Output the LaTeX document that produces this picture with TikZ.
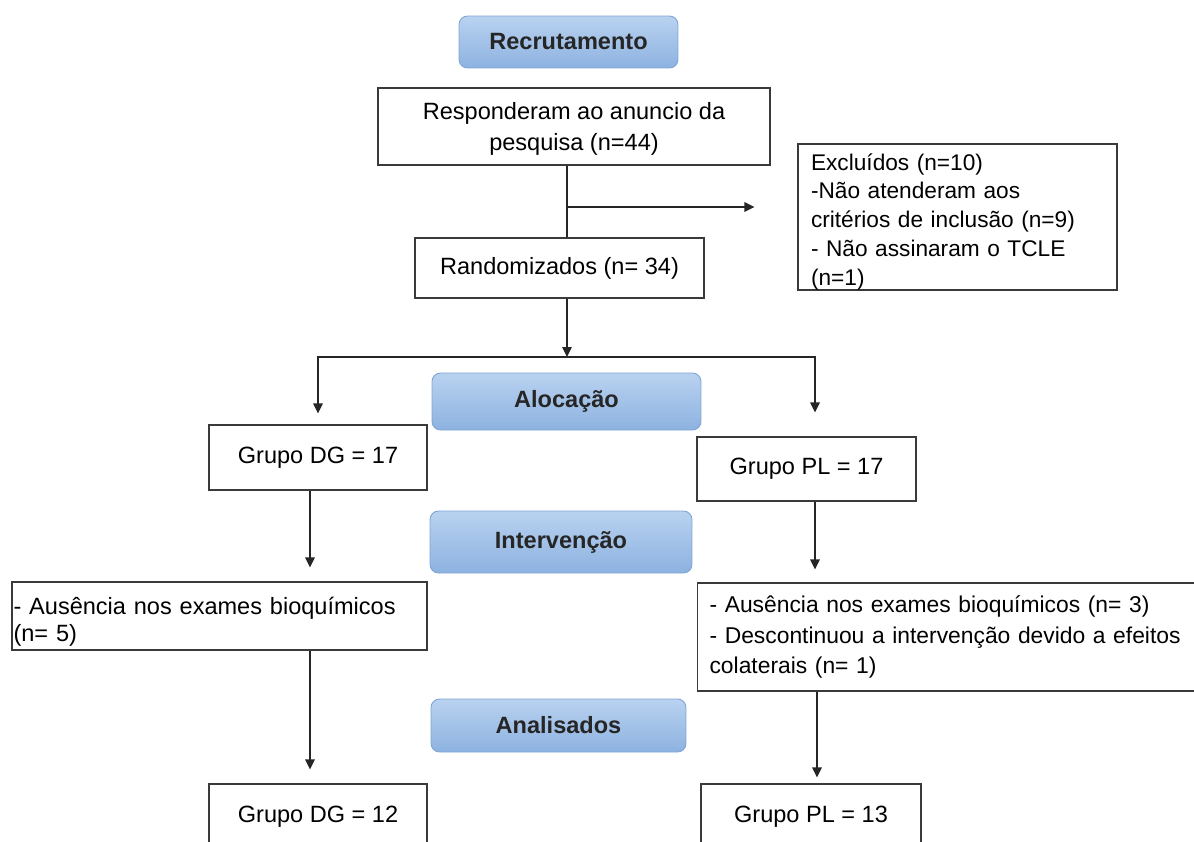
\documentclass[tikz,border=0pt]{standalone}
\usepackage{fontspec}
\setmainfont{Liberation Sans}
\usepackage{tikz}
\usetikzlibrary{arrows.meta,positioning}
\definecolor{hdrtop}{HTML}{B9D2F0}
\definecolor{hdrbot}{HTML}{8DB2E0}
\definecolor{hdrline}{HTML}{7FA5D4}
\definecolor{boxline}{HTML}{3A3A3A}

\begin{document}
\begin{tikzpicture}[x=0.02cm, y=-0.02cm,
  phase/.style={draw=hdrline, line width=0.5pt, rounded corners=0.17cm, top color=hdrtop, bottom color=hdrbot,
    font=\fontsize{13.4}{16.8}\selectfont\bfseries, text=black!85, inner sep=0pt},
  box/.style={draw=boxline, line width=0.65pt, fill=white, font=\fontsize{13.4}{16.8}\selectfont, inner sep=0pt},
  listbox/.style={box, align=left, inner xsep=0.24cm},
  arrow/.style={-{Triangle[length=2mm, width=1.9mm]}, line width=0.65pt, draw=black!85},
  line/.style={line width=0.65pt, draw=black!85}
]
\useasboundingbox (0,0) rectangle (1194,842);
\clip (0,0) rectangle (1194,842);

\node[phase, minimum width=4.38cm, minimum height=1.04cm] (recr) at (568.5,42) {Recrutamento};
\node[box, minimum width=7.84cm, minimum height=1.54cm, align=center, font=\fontsize{13.4}{17.6}\selectfont] (resp) at (574,126.5)
  {\rule{0pt}{0.44cm}Responderam ao anuncio da\\pesquisa (n=44)};
\node[listbox, minimum width=6.38cm, minimum height=2.88cm, text width=5.86cm, font=\fontsize{12.9}{16.4}\selectfont] (excl) at (957.5,217)
  {\rule{0pt}{0.52cm}Excluídos (n=10)\\-Não atenderam aos\\critérios de inclusão (n=9)\\- Não assinaram o TCLE\\(n=1)};
\node[box, minimum width=5.78cm, minimum height=1.2cm] (rand) at (559.5,268) {Randomizados (n= 34)};

\node[phase, minimum width=5.38cm, minimum height=1.14cm] (aloc) at (566.5,401.5) {Alocação};
\node[box, minimum width=4.36cm, minimum height=1.3cm] (dg17) at (318,457.5) {Grupo DG = 17};
\node[box, minimum width=4.38cm, minimum height=1.28cm] (pl17) at (806.5,469) {Grupo PL = 17};

\node[phase, minimum width=5.24cm, minimum height=1.24cm] (interv) at (561,542) {Intervenção};
\node[listbox, inner xsep=0.03cm, minimum width=8.3cm, minimum height=1.36cm, text width=8.24cm, font=\fontsize{13.4}{15.4}\selectfont] (ausL) at (219.5,616)
  {\rule{0pt}{0.59cm}- Ausência nos exames bioquímicos\\(n= 5)};
\node[listbox, anchor=west, minimum height=2.16cm, text width=10.2cm, font=\fontsize{13}{17.6}\selectfont] (ausR) at (697,637)
  {- Ausência nos exames bioquímicos (n= 3)\\- Descontinuou a intervenção devido a efeitos\\colaterais (n= 1)};

\node[phase, minimum width=5.1cm, minimum height=1.06cm] (anal) at (558.5,725.5) {Analisados};
\node[box, minimum width=4.36cm, minimum height=1.3cm] (dg12) at (318,816.5) {Grupo DG = 12};
\node[box, minimum width=4.4cm, minimum height=1.3cm] (pl13) at (811,816.5) {Grupo PL = 13};

\coordinate (branch) at (567,207);
\coordinate (split) at (567,357);
\coordinate (colL) at (310,0);
\coordinate (colR) at (815,0);
\coordinate (colR2) at (817,0);

\draw[line] (resp.south -| split) -- (rand.north -| split);
\draw[arrow, shorten >=0.86cm] (branch) -- (branch -| excl.west);
\draw[arrow] (rand.south -| split) -- (split);
\draw[arrow, shorten >=0.22cm] (split) -| (dg17.north);
\draw[arrow, shorten >=0.48cm] (split) -| (colR |- pl17.north);
\draw[arrow, shorten >=0.28cm] (dg17.south -| colL) -- (ausL.north -| colL);
\draw[arrow, shorten >=0.26cm] (pl17.south -| colR) -- (ausR.north -| colR);
\draw[arrow, shorten >=0.28cm] (ausL.south -| colL) -- (dg12.north -| colL);
\draw[arrow, shorten >=0.12cm] (ausR.south -| colR2) -- (pl13.north -| colR2);
\end{tikzpicture}
\end{document}
